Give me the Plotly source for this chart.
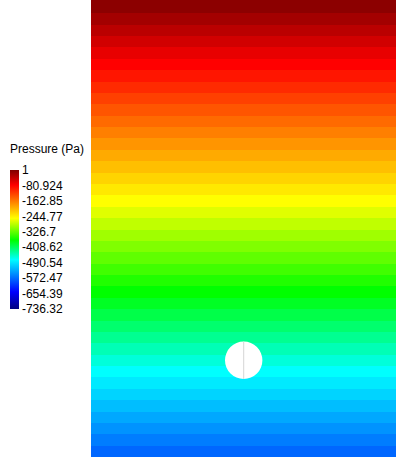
import plotly.graph_objects as go

# ---- data ----
# pressure of each horizontal cell row, top row first (Pa)
band_pressure = [-6.4, -21.0, -35.6, -50.2, -64.8, -79.4, -94.0, -108.6, -123.2, -137.8,
                 -152.4, -167.0, -181.6, -196.2, -210.8, -225.4, -240.0, -254.6, -269.2, -283.8,
                 -298.4, -313.0, -327.6, -342.2, -356.8, -371.4, -386.0, -400.6, -415.2, -429.8,
                 -444.4, -459.0, -473.6, -488.2, -502.8, -517.4, -532.0, -546.6, -561.2, -575.8]
p_max = 1.0
p_min = -736.32
tick_values = [1, -80.924, -162.85, -244.77, -326.7, -408.62, -490.54, -572.47, -654.39, -736.32]
tick_labels = ["1", "-80.924", "-162.85", "-244.77", "-326.7", "-408.62", "-490.54", "-572.47", "-654.39", "-736.32"]
colorbar_title = "Pressure (Pa)"

# ---- geometry / style ----
W, H = 400, 458
dom_left, dom_right = 91, 396
row_top, row_h = 1.9, 11.38
cyl_cx, cyl_cy, cyl_r = 243.7, 360.3, 18.7

n = len(band_pressure)
y_edges = [0.0] + [row_top + row_h * (i + 1) for i in range(n)]
z = [[v] for v in band_pressure]

colorscale = [
    [0.0, "rgb(0,0,128)"],
    [0.124, "rgb(0,0,255)"],
    [0.356, "rgb(0,255,255)"],
    [0.495, "rgb(0,255,0)"],
    [0.653, "rgb(255,255,0)"],
    [0.891, "rgb(255,0,0)"],
    [1.0, "rgb(128,0,0)"],
]

font_family = "Liberation Sans, Arial, sans-serif"

fig = go.Figure()
fig.add_trace(go.Heatmap(
    z=z,
    x=[dom_left, dom_right],
    y=y_edges,
    zmin=p_min, zmax=p_max,
    colorscale=colorscale,
    zsmooth=False,
    hoverinfo="skip",
    colorbar=dict(
        x=10 / W, xanchor="left",
        y=1 - 239.5 / H, yanchor="middle",
        lenmode="pixels", len=139,
        thicknessmode="pixels", thickness=9,
        xpad=0, ypad=0,
        outlinewidth=0,
        ticks="", ticklen=0,
        tickvals=tick_values, ticktext=tick_labels,
        tickfont=dict(family=font_family, size=12, color="black"),
    ),
))

# cylinder obstacle
fig.add_shape(type="circle", xref="x", yref="y",
              x0=cyl_cx - cyl_r, x1=cyl_cx + cyl_r,
              y0=cyl_cy - cyl_r, y1=cyl_cy + cyl_r,
              fillcolor="white", line=dict(width=0))
fig.add_shape(type="line", xref="x", yref="y",
              x0=cyl_cx, x1=cyl_cx, y0=cyl_cy - cyl_r, y1=cyl_cy + cyl_r,
              line=dict(color="#d6d6d6", width=1))

fig.add_annotation(text=colorbar_title, xref="paper", yref="paper",
                   x=8 / W, y=1 - 149 / H, xanchor="left", yanchor="middle",
                   showarrow=False,
                   font=dict(family=font_family, size=12, color="black"))

fig.update_layout(
    width=W, height=H,
    margin=dict(l=0, r=0, t=0, b=0),
    paper_bgcolor="white", plot_bgcolor="white",
    xaxis=dict(range=[0, W], visible=False, fixedrange=True),
    yaxis=dict(range=[H, 0], visible=False, fixedrange=True),
    showlegend=False,
)

fig.write_html("out.html", config={"displayModeBar": False},
               post_script="document.body.style.margin='0';")
